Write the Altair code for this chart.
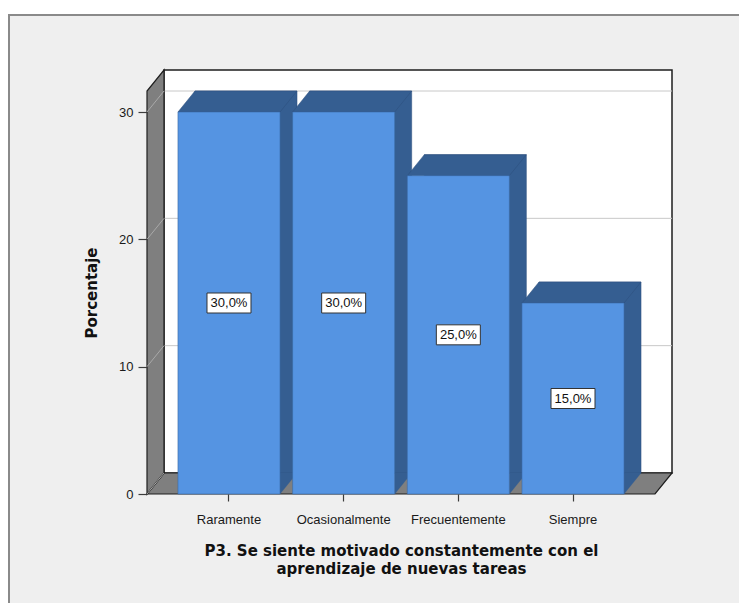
import altair as alt
import pandas as pd

# ---------------- data ----------------
categories = ["Raramente", "Ocasionalmente", "Frecuentemente", "Siempre"]
percentages = [30.0, 30.0, 25.0, 15.0]
y_ticks = [0, 10, 20, 30]
grid_values = [10, 20, 30]
wall_lines = [0, 10, 20, 30]
x_title = ["P3. Se siente motivado constantemente con el", "aprendizaje de nuevas tareas"]
y_title = "Porcentaje"

# ---------------- layout / style ----------------
W, H = 508, 403          # front plane of the 3-D box
DX, DY = 17, 21          # depth offset
Y_MAX = 31.65
P_IN, P_OUT = 0.11, 0.27
step = W / (len(categories) - P_IN + 2 * P_OUT)
half = step * (1 - P_IN) / 2

FRONT = "#5594E2"
SIDE = "#355E91"
GRAY = "#7F7F7F"
EDGE = "#1E1E1E"
FONT = "Liberation Sans"
TFONT = "DejaVu Sans"

df = pd.DataFrame({"cat": categories, "pct": percentages})
df["mid"] = df["pct"] / 2
df["base"] = 0.0
df["label"] = [f"{v:.1f}".replace(".", ",") + "%" for v in percentages]

one = pd.DataFrame({"k": [0]})
grid_df = pd.DataFrame({"v": grid_values})
wall_df = pd.DataFrame({"v": wall_lines})


def path(pts):
    return "M" + " L".join(f"{x:.2f},{y:.2f}" for x, y in pts) + " Z"


xs = alt.Scale(domain=categories, paddingInner=P_IN, paddingOuter=P_OUT)
ys = alt.Scale(domain=[0, Y_MAX], nice=False, zero=True)

X_AXIS = alt.Axis(
    title=x_title, domain=False, ticks=True, tickSize=7, tickColor="#3C3C3C",
    tickWidth=1.2, labelFont=FONT, labelFontSize=13, labelColor="#1A1A1A",
    labelPadding=12, labelAngle=0, titleFont=TFONT, titleFontSize=15,
    titleFontWeight="bold", titleColor="#111111", titleY=49, titleBaseline="top",
    titleLineHeight=18, zindex=1, grid=False,
)
Y_AXIS = alt.Axis(
    title=y_title, values=y_ticks, domain=False, grid=False, ticks=True, tickSize=9,
    tickColor="#3C3C3C", tickWidth=1.2, labelFont=FONT, labelFontSize=13,
    labelColor="#1A1A1A", labelPadding=5, titleFont=TFONT, titleFontSize=15,
    titleFontWeight="bold", titleColor="#111111", titleX=-56, titleY=H / 2,
    titleAngle=270, titleAlign="center", titleBaseline="middle", zindex=1,
)

X = alt.X("cat:N", sort=categories, scale=xs, axis=X_AXIS)


def Yf(field):
    return alt.Y(field, scale=ys, axis=Y_AXIS)


# ---------------- decoration: frame, walls, floor ----------------
frame = alt.Chart(one).mark_rect(fill="#EFEFEF", stroke="#8A8A8A", strokeWidth=2).encode(
    x=alt.value(-138), x2=alt.value(640), y=alt.value(-76), y2=alt.value(560)
)


def shape_layer(data, pts, fill, stroke, sw, x, y):
    return alt.Chart(data).mark_point(
        shape=path(pts), size=4, filled=True, fill=fill, stroke=stroke,
        strokeWidth=sw, opacity=1,
    ).encode(x=x, y=y)


back_wall = shape_layer(
    one, [(DX, -DY), (W + DX, -DY), (W + DX, -H - DY), (DX, -H - DY)],
    "white", EDGE, 1.5, alt.value(0), alt.value(H),
)

grid = alt.Chart(grid_df).mark_rule(color="#C8C8C8", strokeWidth=1, yOffset=-DY).encode(
    y=Yf("v:Q"), x=alt.value(DX), x2=alt.value(W + DX)
)

floor = shape_layer(
    one, [(0, 0), (W, 0), (W + DX, -DY), (DX, -DY)],
    GRAY, EDGE, 1.2, alt.value(0), alt.value(H),
)
left_wall = shape_layer(
    one, [(0, 0), (DX, -DY), (DX, -H - DY), (0, -H)],
    GRAY, EDGE, 1.2, alt.value(0), alt.value(H),
)
wall_diag = alt.Chart(wall_df).mark_rule(color="#A9A9A9", strokeWidth=1, y2Offset=-DY).encode(
    y=Yf("v:Q"), y2="v:Q", x=alt.value(0), x2=alt.value(DX)
)

# ---------------- bars (3-D prisms) ----------------
side = alt.Chart(df).mark_bar(
    color=SIDE, xOffset=DX, yOffset=-DY, y2Offset=-DY, stroke="#2C4F7C", strokeWidth=0.5
).encode(x=X, y=Yf("pct:Q"))

top = shape_layer(
    df, [(-half, 0), (half, 0), (half + DX, -DY), (-half + DX, -DY)],
    SIDE, "#2C4F7C", 0.5, X, Yf("pct:Q"),
)
bottom_tri = shape_layer(
    df, [(half, 0), (half, -DY), (half + DX, -DY)],
    SIDE, SIDE, 0.3, X, Yf("base:Q"),
)

front = alt.Chart(df).mark_bar(color=FRONT, stroke="#3A6AA5", strokeWidth=0.6).encode(
    x=X, y=Yf("pct:Q")
)

box = shape_layer(
    df, [(-22, -10), (22, -10), (22, 10), (-22, 10)],
    "white", "#333333", 1, X, Yf("mid:Q"),
)
labels = alt.Chart(df).mark_text(font=FONT, fontSize=13, color="#111111", baseline="middle").encode(
    x=X, y=Yf("mid:Q"), text="label:N"
)

chart = alt.layer(
    frame, back_wall, grid, floor, left_wall, wall_diag,
    side, top, bottom_tri, front, box, labels,
).properties(
    width=W, height=H,
    autosize=alt.AutoSizeParams(type="none"),
    padding={"left": 147, "top": 91, "right": 84, "bottom": 109},
    background="white",
).configure_view(stroke=None)

chart.save("out.html", embed_options={"renderer": "svg", "actions": False})
